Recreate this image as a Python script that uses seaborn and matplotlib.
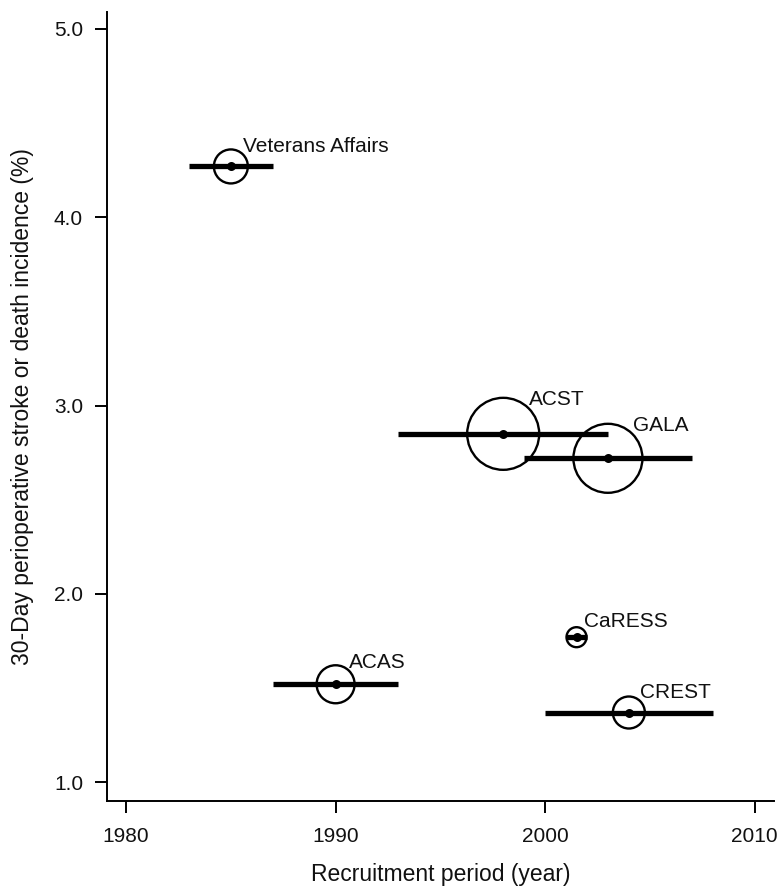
import pandas as pd
import matplotlib
matplotlib.use("Agg")
import matplotlib.pyplot as plt
import seaborn as sns

# trial recruitment periods and 30-day stroke/death rates
trials = ["Veterans Affairs", "ACAS", "ACST", "GALA", "CaRESS", "CREST"]
start_year = [1983, 1987, 1993, 1999, 2001, 2000]
end_year = [1987, 1993, 2003, 2007, 2002, 2008]
rate = [4.27, 1.52, 2.85, 2.72, 1.77, 1.37]
circle_radius = [17, 19, 36, 34.5, 10, 16]   # relative circle size (px radius)

df = pd.DataFrame({"trial": trials, "start": start_year, "end": end_year,
                   "rate": rate, "radius": circle_radius})
df["mid"] = (df["start"] + df["end"]) / 2
df["area"] = (df["radius"] * 2 * 0.72) ** 2

sns.set_theme(style="ticks")
plt.rcParams["font.family"] = ["Liberation Sans", "DejaVu Sans"]

fig = plt.figure(figsize=(7.78, 8.91), dpi=100)
ax = fig.add_axes([0.1371, 0.1010, 0.8578, 0.8855])

# recruitment period bars
ax.hlines(df["rate"], df["start"], df["end"], color="black", linewidth=3.8, zorder=2)

# open circles sized per trial
sns.scatterplot(data=df, x="mid", y="rate", size="trial",
                sizes=dict(zip(df["trial"], df["area"])), legend=False,
                facecolor="none", edgecolor="black", linewidth=1.7, ax=ax, zorder=3)
ax.collections[-1].set_facecolor("none")

# centre dots
sns.scatterplot(data=df, x="mid", y="rate", color="black", s=42,
                edgecolor="black", linewidth=0, legend=False, ax=ax, zorder=4)

# trial labels at upper right of each circle
for _, row in df.iterrows():
    off = 0.72 * row["radius"] * 0.72
    ax.annotate(row["trial"], (row["mid"], row["rate"]),
                xytext=(off, off + 0.72 * 8), textcoords="offset points",
                ha="left", va="center", fontsize=15, color="#111111")

ax.set_xlim(1979.07, 2010.93)
ax.set_ylim(0.90, 5.09)
ax.set_xticks([1980, 1990, 2000, 2010])
ax.set_yticks([1.0, 2.0, 3.0, 4.0, 5.0])
ax.set_yticklabels(["1.0", "2.0", "3.0", "4.0", "5.0"])

sns.despine(ax=ax)
for side in ["left", "bottom"]:
    ax.spines[side].set_linewidth(1.4)
    ax.spines[side].set_color("black")
ax.tick_params(axis="both", direction="out", length=8.6, width=1.4,
               colors="black", labelsize=15, labelcolor="#111111")
ax.tick_params(axis="x", pad=10)
ax.tick_params(axis="y", pad=8.4)
ax.grid(False)

ax.set_xlabel("Recruitment period (year)", fontsize=16.5, color="#111111", labelpad=12)
ax.set_ylabel("30-Day perioperative stroke or death incidence (%)", fontsize=16.5,
              color="#111111", labelpad=14)

fig.savefig("out.png", dpi=100)
